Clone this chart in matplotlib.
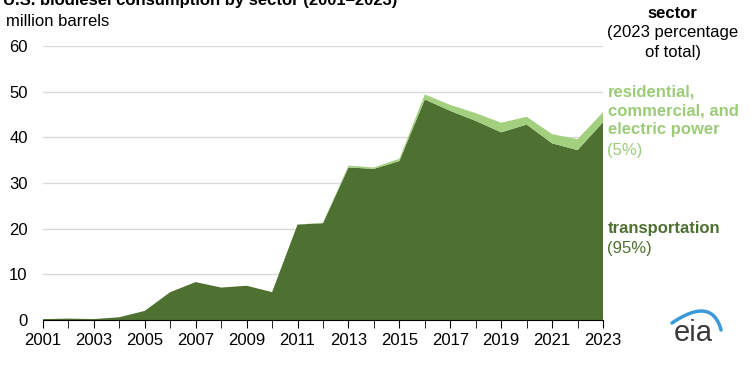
import numpy as np
from matplotlib import pyplot as plt

years = list(range(2001, 2024))
transportation = [0.2, 0.3, 0.2, 0.6, 2.0, 6.1, 8.3, 7.1, 7.5, 6.1, 20.9, 21.2,
                  33.4, 33.1, 34.8, 48.3, 45.8, 43.6, 41.1, 42.8, 38.7, 37.2, 43.3]
total = [0.2, 0.3, 0.2, 0.6, 2.0, 6.1, 8.3, 7.1, 7.5, 6.1, 20.9, 21.3,
         33.8, 33.4, 35.3, 49.4, 47.1, 45.3, 43.2, 44.5, 40.7, 39.6, 45.5]
other = [t - tr for t, tr in zip(total, transportation)]

dark = '#4e7030'
light = '#a3d07f'

plt.rcParams['font.family'] = ['Liberation Sans', 'DejaVu Sans']

fig = plt.figure(figsize=(7.5, 3.75), dpi=100)
ax = fig.add_axes([0.0573, 0.1467, 0.7467, 0.7306])
ax.stackplot(years, transportation, other, colors=[dark, light], linewidth=0)
ax.set_xlim(2001, 2023)
ax.set_ylim(0, 60)
ax.set_yticks(range(0, 61, 10))
ax.set_xticks(years, minor=True)
ax.set_xticks(range(2001, 2024, 2))
ax.grid(axis='y', color='#d9d9d9', linewidth=1)
ax.set_axisbelow(True)
for s in ['top', 'right', 'left']:
    ax.spines[s].set_visible(False)
ax.spines['bottom'].set_color('black')
ax.tick_params(axis='y', length=0, labelsize=12, pad=11)
ax.tick_params(axis='x', which='both', direction='out', length=6, color='black', labelsize=12)

fig.text(0.004, 0.987, 'U.S. biodiesel consumption by sector (2001\u20132023)',
         fontsize=12, fontweight='bold', va='baseline')
fig.text(0.008, 0.942, 'million barrels', fontsize=12, va='center')

fig.text(0.897, 0.965, 'sector', fontsize=12, fontweight='bold', ha='center', va='center')
fig.text(0.897, 0.912, '(2023 percentage', fontsize=12, ha='center', va='center')
fig.text(0.897, 0.861, 'of total)', fontsize=12, ha='center', va='center')

fig.text(0.81, 0.704, 'residential,\ncommercial, and\nelectric power', fontsize=12,
         fontweight='bold', color='#9ccc78', va='center', linespacing=1.32)
fig.text(0.81, 0.598, '(5%)', fontsize=12, color='#9ccc78', va='center')
fig.text(0.81, 0.39, 'transportation', fontsize=12, fontweight='bold', color=dark, va='center')
fig.text(0.81, 0.336, '(95%)', fontsize=12, color=dark, va='center')

# eia logo, drawn in pixel coordinates
lg = fig.add_axes([660 / 750, 0, 90 / 750, 75 / 375])
lg.set_xlim(660, 750)
lg.set_ylim(375, 300)
lg.axis('off')
lg.text(693, 333, 'eia', fontsize=21, color='#3a3a3a', ha='center', va='center')
t = np.linspace(0, 1, 60)
bx = (1 - t) ** 2 * 672 + 2 * (1 - t) * t * 712 + t ** 2 * 721
by = (1 - t) ** 2 * 323 + 2 * (1 - t) * t * 296 + t ** 2 * 330
lg.plot(bx, by, color='#3a9ad9', linewidth=2.5, solid_capstyle='round')

fig.savefig('out.png')
